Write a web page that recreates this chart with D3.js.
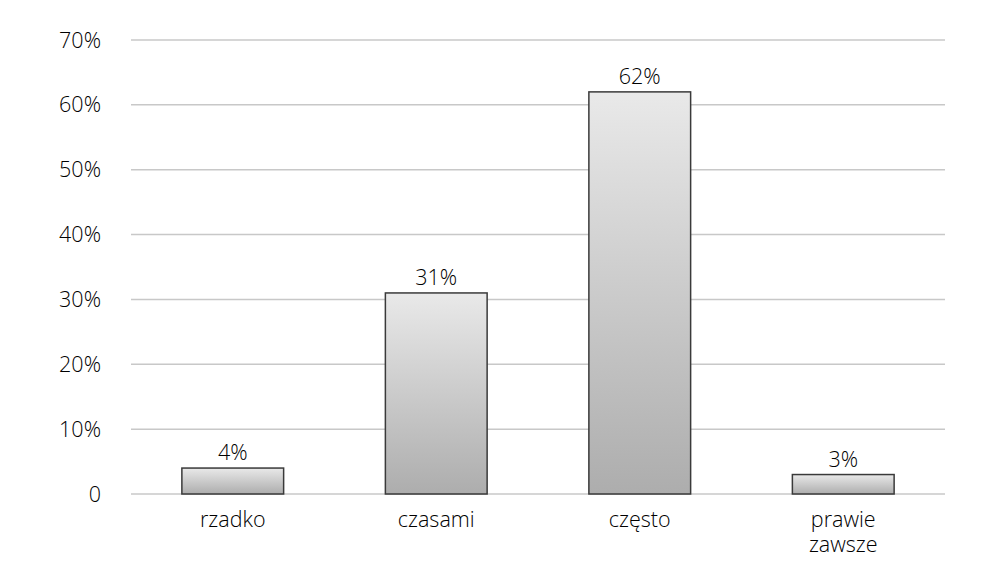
<!DOCTYPE html>
<html>
<head>
<meta charset="utf-8">
<script src="https://cdn.jsdelivr.net/npm/d3@7"></script>
<style>
  body { margin: 0; background: #fff; }
  text { font-family: "Open Sans", sans-serif; font-weight: 300; fill: #000; }
</style>
</head>
<body>
<div id="chart"></div>
<script>
var categories = ["rzadko", "czasami", "często", "prawie zawsze"]
var categoryLines = [["rzadko"], ["czasami"], ["często"], ["prawie", "zawsze"]]
var values = [4, 31, 62, 3]
var yTicks = [0, 10, 20, 30, 40, 50, 60, 70]

var width = 995, height = 573
var margin = { top: 40, left: 131, right: 50, bottom: 79 }

var svg = d3.select("#chart").append("svg")
    .attr("width", width).attr("height", height)

var defs = svg.append("defs")
var grad = defs.append("linearGradient").attr("id", "barGrad")
    .attr("x1", 0).attr("y1", 0).attr("x2", 0).attr("y2", 1)
grad.append("stop").attr("offset", "0%").attr("stop-color", "#e9e9e9")
grad.append("stop").attr("offset", "100%").attr("stop-color", "#adadad")

var x = d3.scaleBand().domain(categories)
    .range([margin.left, width - margin.right]).paddingInner(0.5).paddingOuter(0.25)
var y = d3.scaleLinear().domain([0, 70]).range([height - margin.bottom, margin.top])

// gridlines
svg.append("g").selectAll("line").data(yTicks).enter().append("line")
    .attr("x1", margin.left).attr("x2", width - margin.right)
    .attr("y1", function(d) { return y(d) }).attr("y2", function(d) { return y(d) })
    .attr("stroke", "#c8c8c8").attr("stroke-width", 1.5)

// y labels
svg.append("g").selectAll("text").data(yTicks).enter().append("text")
    .attr("x", 101).attr("y", function(d) { return y(d) })
    .attr("dy", "0.35em").attr("text-anchor", "end").attr("font-size", 21.5)
    .text(function(d) { return d === 0 ? "0" : d + "%" })

// bars
svg.append("g").selectAll("rect").data(values).enter().append("rect")
    .attr("x", function(d, i) { return x(categories[i]) })
    .attr("width", x.bandwidth())
    .attr("y", function(d) { return y(d) })
    .attr("height", function(d) { return y(0) - y(d) })
    .attr("fill", "url(#barGrad)")
    .attr("stroke", "#3a3a3a").attr("stroke-width", 1.5)

// value labels
svg.append("g").selectAll("text").data(values).enter().append("text")
    .attr("x", function(d, i) { return x(categories[i]) + x.bandwidth() / 2 })
    .attr("y", function(d) { return y(d) - 8 })
    .attr("text-anchor", "middle").attr("font-size", 21.5)
    .text(function(d) { return d + "%" })

// category labels, one text per line
var lines = []
categoryLines.forEach(function(ws, i) {
    ws.forEach(function(w, j) { lines.push({ cat: categories[i], word: w, row: j }) })
})
svg.append("g").selectAll("text").data(lines).enter().append("text")
    .attr("x", function(d) { return x(d.cat) + x.bandwidth() / 2 })
    .attr("y", function(d) { return y(0) + 33 + d.row * 25 })
    .attr("text-anchor", "middle").attr("font-size", 21.5)
    .text(function(d) { return d.word })
</script>
</body>
</html>
